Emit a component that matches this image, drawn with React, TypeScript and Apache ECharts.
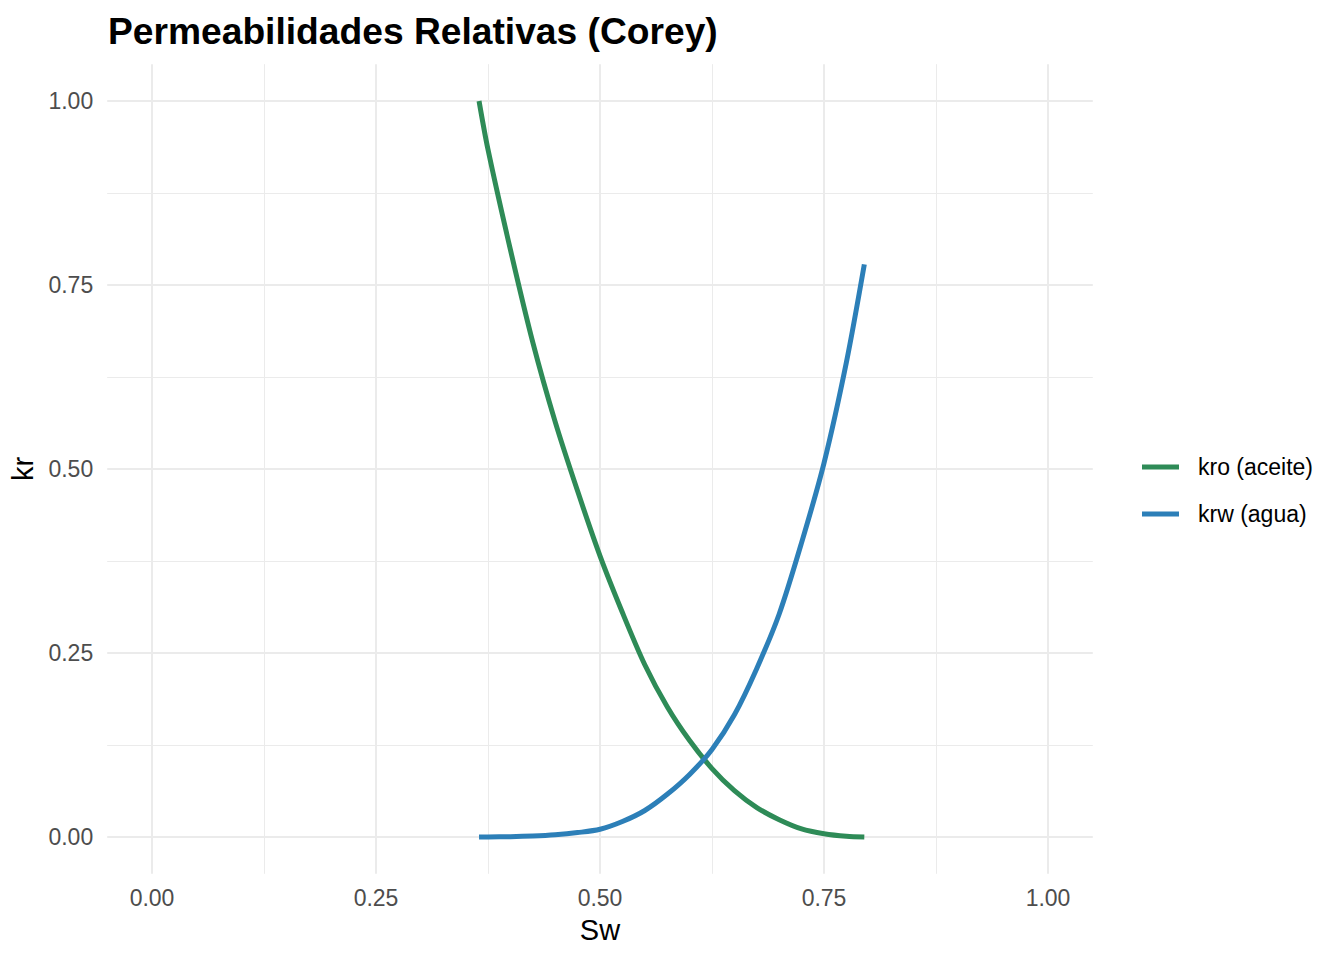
import React, { useEffect, useRef } from "react";
import * as echarts from "echarts";

const titleText = "Permeabilidades Relativas (Corey)";
const xName = "Sw";
const yName = "kr";
const seriesNames = ["kro (aceite)", "krw (agua)"];
const seriesColors = ["#2E8B57", "#2C7FB8"];

const sw = [0.365, 0.375, 0.4, 0.425, 0.45, 0.475, 0.5, 0.525, 0.55, 0.575, 0.6, 0.625, 0.65, 0.675, 0.7, 0.725, 0.75, 0.775, 0.795];
const kro = [1.0, 0.934, 0.798, 0.672, 0.564, 0.47, 0.382, 0.305, 0.234, 0.177, 0.131, 0.093, 0.063, 0.04, 0.0235, 0.011, 0.0045, 0.001, 0.0];
const krw = [0.0, 0.0001, 0.0004, 0.0013, 0.003, 0.006, 0.0105, 0.021, 0.036, 0.058, 0.085, 0.119, 0.166, 0.229, 0.303, 0.4, 0.508, 0.645, 0.778];

const majorTicks = [0, 0.25, 0.5, 0.75, 1];
const minorTicks = [0.125, 0.375, 0.625, 0.875];

export default function App() {
  const ref = useRef<HTMLDivElement>(null);
  useEffect(() => {
    if (!ref.current) return;
    const chart = echarts.init(ref.current, null, { renderer: "svg" });
    const font = "'Liberation Sans', Arial, sans-serif";
    const fmt = (v: number) => v.toFixed(2);
    const grid = "#EBEBEB";
    const majorAxis = (isX: boolean) => ({
      type: "value",
      min: -0.05,
      max: 1.05,
      axisLine: { show: false },
      axisTick: { show: false, customValues: majorTicks },
      axisLabel: {
        customValues: majorTicks,
        formatter: fmt,
        color: "#4D4D4D",
        fontSize: 23,
        fontFamily: font,
        margin: isX ? 13 : 14,
      },
      splitLine: { show: true, lineStyle: { color: grid, width: 2 } },
      name: isX ? xName : yName,
      nameLocation: "middle",
      nameGap: isX ? 42 : 63,
      nameTextStyle: { fontSize: 29, color: "#000", fontFamily: font },
    });
    const minorAxis = () => ({
      type: "value",
      min: -0.05,
      max: 1.05,
      axisLine: { show: false },
      axisTick: { show: false, customValues: minorTicks },
      axisLabel: { show: false, customValues: minorTicks },
      splitLine: { show: true, lineStyle: { color: grid, width: 1 } },
    });
    const values = [kro, krw];
    chart.setOption({
      animation: false,
      backgroundColor: "#fff",
      title: {
        text: titleText,
        left: 108,
        top: 12,
        padding: 0,
        textStyle: { fontSize: 37.2, fontWeight: "bold", color: "#000", fontFamily: font },
      },
      legend: {
        orient: "vertical",
        left: 1142,
        top: 455,
        padding: 0,
        icon: "rect",
        itemWidth: 37,
        itemHeight: 5,
        itemGap: 23,
        data: seriesNames,
        textStyle: {
          fontSize: 23,
          lineHeight: 24,
          color: "#000",
          fontFamily: font,
          padding: [0, 0, 0, 14],
        },
      },
      grid: { left: 107.2, top: 64.2, width: 985.6, height: 809.6 },
      xAxis: [majorAxis(true), minorAxis()],
      yAxis: [majorAxis(false), minorAxis()],
      series: seriesNames.map((name, k) => ({
        name,
        type: "line",
        xAxisIndex: 0,
        yAxisIndex: 0,
        data: sw.map((x, i) => [x, values[k][i]]),
        symbol: "none",
        showSymbol: false,
        smooth: 0.3,
        lineStyle: { width: 5, color: seriesColors[k] },
        itemStyle: { color: seriesColors[k] },
      })),
    });
    return () => chart.dispose();
  }, []);
  return (
    <div
      ref={ref}
      style={{ position: "fixed", left: 0, top: 0, width: 1344, height: 960, background: "#fff" }}
    />
  );
}
